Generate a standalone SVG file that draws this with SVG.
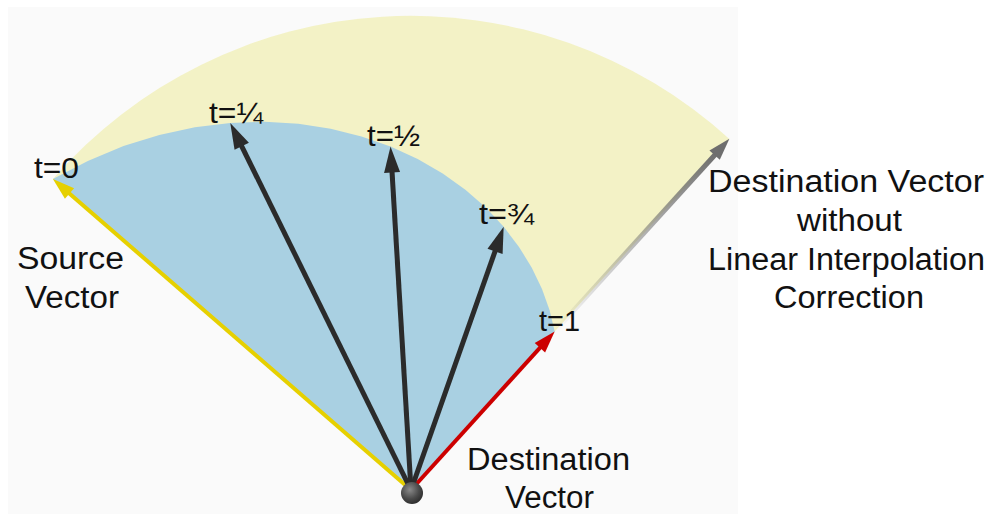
<svg xmlns="http://www.w3.org/2000/svg" width="995" height="514" viewBox="0 0 995 514">
<style>
.lbl{font-family:"Liberation Sans",Arial,sans-serif;font-size:31px;fill:#111}
.tl{font-family:"Liberation Sans",Arial,sans-serif;font-size:30px;fill:#111}
.blk{stroke:#2b2b2b;stroke-width:5;fill:none}
</style>
<defs>
<marker id="ahBlack" markerUnits="userSpaceOnUse" orient="auto" refX="0" refY="0" markerWidth="40" markerHeight="40" overflow="visible"><path d="M18,0 L-8,-8 L-8,8 Z" fill="#2b2b2b"/></marker>
<marker id="ahYellow" markerUnits="userSpaceOnUse" orient="auto" refX="0" refY="0" markerWidth="40" markerHeight="40" overflow="visible"><path d="M18,0 L-4,-7 L-4,7 Z" fill="#e6d000"/></marker>
<marker id="ahRed" markerUnits="userSpaceOnUse" orient="auto" refX="0" refY="0" markerWidth="40" markerHeight="40" overflow="visible"><path d="M18,0 L-4,-7 L-4,7 Z" fill="#cc0000"/></marker>
<marker id="ahGray" markerUnits="userSpaceOnUse" orient="auto" refX="0" refY="0" markerWidth="40" markerHeight="40" overflow="visible"><path d="M18,0 L-4,-7 L-4,7 Z" fill="#6e6e6e"/></marker>
<linearGradient id="grayFade" gradientUnits="userSpaceOnUse" x1="555" y1="331" x2="717" y2="152">
<stop offset="0" stop-color="#777" stop-opacity="0"/>
<stop offset="0.4" stop-color="#777" stop-opacity="0.4"/>
<stop offset="1" stop-color="#6e6e6e" stop-opacity="1"/>
</linearGradient>
<radialGradient id="ball" cx="0.4" cy="0.35" r="0.7">
<stop offset="0" stop-color="#8a8a8a"/>
<stop offset="0.6" stop-color="#4a4a4a"/>
<stop offset="1" stop-color="#2a2a2a"/>
</radialGradient>
</defs>
<rect x="0" y="0" width="995" height="514" fill="#ffffff"/>
<rect x="8" y="7" width="730" height="507" fill="#fafafa"/>
<g id="outer-region">
<path d="M411,490 L52.9,179.1 A474,474 0 0 1 729.4,138.9 Z" fill="#f3f2c6"/>
</g>
<g id="interp-region">
<path d="M411,490 L52.9,179.1 L87.8,161.0 L123.5,146.1 L159.3,135.0 L194.9,127.3 L230.2,122.9 L264.9,121.8 L298.4,123.8 L330.7,128.7 L361.5,136.4 L390.5,146.5 L417.7,159.0 L442.7,173.5 L465.4,189.8 L485.8,207.6 L503.7,226.8 L519.0,246.9 L531.8,267.7 L542.0,288.9 L549.6,310.2 L554.7,331.5 Z" fill="#a9d0e2"/>
</g>
<g id="connectors">
<line x1="555" y1="331" x2="717.3" y2="152.2" stroke="url(#grayFade)" stroke-width="5" marker-end="url(#ahGray)"/>
<line x1="411" y1="490" x2="66.5" y2="190.9" stroke="#e6d000" stroke-width="4" marker-end="url(#ahYellow)"/>
<line x1="411" y1="490" x2="542.6" y2="344.8" stroke="#cc0000" stroke-width="4" marker-end="url(#ahRed)"/>
<line class="blk" x1="411" y1="490" x2="238.2" y2="139.1" marker-end="url(#ahBlack)"/>
<line class="blk" x1="411" y1="490" x2="391.6" y2="164.5" marker-end="url(#ahBlack)"/>
<line class="blk" x1="411" y1="490" x2="497.7" y2="243.8" marker-end="url(#ahBlack)"/>
</g>
<g id="origin">
<circle cx="412" cy="493" r="11" fill="url(#ball)"/>
</g>
<g id="labels">
<text class="tl" x="34" y="178" textLength="45" lengthAdjust="spacingAndGlyphs">t=0</text>
<text class="tl" x="209" y="123" textLength="54" lengthAdjust="spacingAndGlyphs">t=¼</text>
<text class="tl" x="367" y="146" textLength="53" lengthAdjust="spacingAndGlyphs">t=½</text>
<text class="tl" x="479" y="224" textLength="55" lengthAdjust="spacingAndGlyphs">t=¾</text>
<text class="tl" x="539" y="331" textLength="41" lengthAdjust="spacingAndGlyphs">t=1</text>
</g>
<g id="source-label">
<text class="lbl" x="17" y="269" textLength="107" lengthAdjust="spacingAndGlyphs">Source</text>
<text class="lbl" x="25" y="308" textLength="94" lengthAdjust="spacingAndGlyphs">Vector</text>
</g>
<g id="destination-label">
<text class="lbl" x="467" y="470" textLength="163" lengthAdjust="spacingAndGlyphs">Destination</text>
<text class="lbl" x="505" y="508" textLength="89" lengthAdjust="spacingAndGlyphs">Vector</text>
</g>
<g id="uncorrected-label">
<text class="lbl" x="708" y="192" textLength="276" lengthAdjust="spacingAndGlyphs">Destination Vector</text>
<text class="lbl" x="797" y="231" textLength="105" lengthAdjust="spacingAndGlyphs">without</text>
<text class="lbl" x="708" y="270" textLength="277" lengthAdjust="spacingAndGlyphs">Linear Interpolation</text>
<text class="lbl" x="774" y="308" textLength="150" lengthAdjust="spacingAndGlyphs">Correction</text>
</g>
</svg>
